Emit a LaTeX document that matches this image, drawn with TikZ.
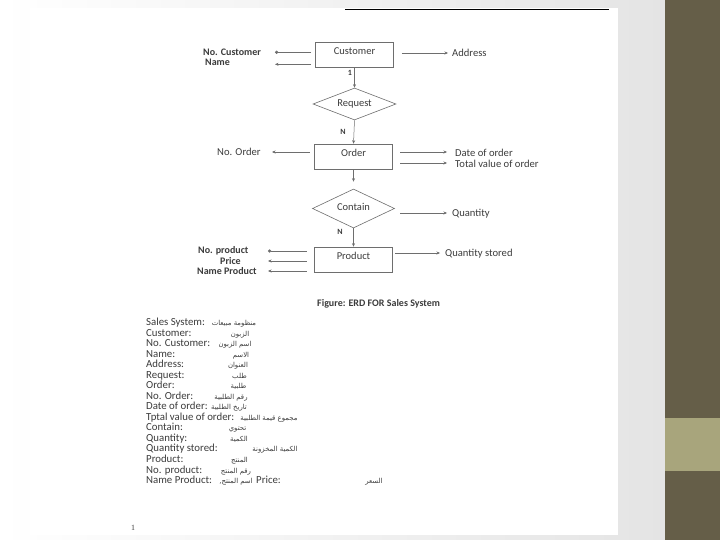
\documentclass[tikz,border=0pt]{standalone}
\usepackage{fontspec}
\setmainfont{Carlito}
\newfontfamily\arabicfont[Script=Arabic]{DejaVu Sans}
\newfontfamily\seriffont{Liberation Serif}
\usetikzlibrary{arrows.meta,shapes.geometric,calc}
\TeXXeTstate=1
\definecolor{darkband}{RGB}{101,94,72}
\definecolor{oliveband}{RGB}{168,165,124}
\definecolor{slidegray}{RGB}{228,228,228}
\definecolor{inkc}{RGB}{60,60,60}
\definecolor{linec}{RGB}{110,110,110}
\tikzset{
  ebox/.style={draw=linec, line width=0.6pt, minimum width=78pt, minimum height=25pt, inner sep=0pt,
    font=\fontsize{10.5}{12}\selectfont, text=inkc, text height=7.5pt, text depth=7.5pt},
  relbox/.style={draw=linec, line width=0.6pt, diamond, aspect=2.4, inner sep=0pt,
    font=\fontsize{10.5}{12}\selectfont, text=inkc},
  lbl/.style={font=\fontsize{10.6}{12}\selectfont, text=inkc, inner sep=0pt, anchor=west},
  blbl/.style={lbl, font=\fontsize{10}{12}\selectfont\bfseries},
  card/.style={font=\fontsize{8}{9}\selectfont\bfseries, text=inkc, inner sep=0pt},
  conn/.style={draw=linec, line width=0.5pt},
  tipend/.style={-{Stealth[length=3.5pt,width=3pt]}},
  dotend/.style={-{Circle[length=3.2pt]}},
  listl/.style={font=\fontsize{10.8}{12}\selectfont, text=inkc, inner sep=0pt, anchor=west,
    text height=7pt, text depth=2pt},
  lista/.style={font=\arabicfont\fontsize{6.9}{8}\selectfont, text=inkc, inner sep=0pt,
    text height=7pt, text depth=2pt}
}
\begin{document}
\begin{tikzpicture}[x=1pt,y=-1pt]
\useasboundingbox (0,0) rectangle (720,540);
% slide background
\shade[left color=white, right color=slidegray] (0,0) rectangle (665,540);
\fill[darkband] (665,0) rectangle (720,540);
\fill[oliveband] (665,418) rectangle (720,471);
% scanned page
\fill[white] (30,8) rectangle (618,535);
\draw[black, line width=1.3pt] (345,9.3) -- (609,9.3);

% entities and relations
\node[ebox] (cust) at (354.5,54.5) {Customer};
\node[relbox, minimum width=83pt, minimum height=32pt] (req) at (354.5,104) {Request};
\node[ebox] (ord) at (353.5,156.5) {Order};
\node[relbox, minimum width=82pt, minimum height=39pt] (cont) at (353.5,208.5) {\raisebox{3.5pt}{Contain}};
\node[ebox] (prod) at (353.5,259.5) {Product};

% attribute labels
\node[blbl] (nocust) at (203,52) {No. Customer};
\node[blbl] (cname) at (205,62) {Name};
\node[lbl] (addr) at (452,53) {Address};
\node[lbl] (noord) at (217,152) {No. Order};
\node[lbl] (dord) at (455,152.5) {Date of order};
\node[lbl] (tord) at (455,163.5) {Total value of order};
\node[lbl] (qty) at (452,214) {Quantity};
\node[blbl] (noprod) at (198,251) {No. product};
\node[blbl] (price) at (220,261) {Price};
\node[blbl] (nprod) at (197,271) {Name Product};
\node[lbl] (qsto) at (445,253.5) {Quantity stored};

% cardinalities
\node[card] (c1) at (350,73) {1};
\node[card] (c2) at (343,132) {N};
\node[card] (c3) at (340,232) {N};

% free ends of attribute connectors
\coordinate (e1) at (275,52.3);
\coordinate (e2) at (275,64.3);
\coordinate (e3) at (448,53);
\coordinate (e4) at (272,152);
\coordinate (e5) at (447,152);
\coordinate (e6) at (447,163);
\coordinate (e7) at (447,213);
\coordinate (e8) at (268,251);
\coordinate (e9) at (268,261);
\coordinate (e10) at (268,271);
\coordinate (e11) at (440,253);

% connectors
\draw[conn,dotend] ($(cust.west)+(-4,-2.2)$) -- (e1);
\draw[conn,tipend] ($(cust.west)+(-4,9.8)$) -- (e2);
\draw[conn,tipend] ($(cust.east)+(8,-1.5)$) -- (e3);
\draw[conn,tipend] (cust.south) -- (req.north);
\draw[conn,tipend] (req.south) -- (ord.north);
\draw[conn,tipend] ($(ord.west)+(-4.5,-4.5)$) -- (e4);
\draw[conn,tipend] ($(ord.east)+(7.5,-4.5)$) -- (e5);
\draw[conn,tipend] ($(ord.east)+(7.5,6.5)$) -- (e6);
\draw[conn,tipend,shorten >=7pt] (ord.south) -- (cont.north);
\draw[conn,tipend] ($(cont.east)+(5.5,4.5)$) -- (e7);
\draw[conn,tipend] (cont.south) -- (prod.north);
\draw[conn,dotend] ($(prod.west)+(-7.5,-8.5)$) -- (e8);
\draw[conn,tipend] ($(prod.west)+(-7.5,1.5)$) -- (e9);
\draw[conn,tipend] ($(prod.west)+(-7.5,11.5)$) -- (e10);
\draw[conn,tipend] ($(prod.east)+(2.5,-6.5)$) -- (e11);

% caption
\node[lbl, font=\fontsize{10}{12}\selectfont\bfseries] (cap) at (317,304) {Figure: ERD FOR Sales System};

% glossary
\node[listl] (l1) at (146,323.0) {Sales System:};
\node[listl] (l2) at (146,333.5) {Customer:};
\node[listl] (l3) at (146,344.1) {No. Customer:};
\node[listl] (l4) at (146,354.6) {Name:};
\node[listl] (l5) at (146,365.1) {Address:};
\node[listl] (l6) at (146,375.7) {Request:};
\node[listl] (l7) at (146,386.2) {Order:};
\node[listl] (l8) at (146,396.7) {No. Order:};
\node[listl] (l9) at (146,407.3) {Date of order:};
\node[listl] (l10) at (146,417.8) {Tptal value of order:};
\node[listl] (l11) at (146,428.3) {Contain:};
\node[listl] (l12) at (146,438.9) {Quantity:};
\node[listl] (l13) at (146,449.4) {Quantity stored:};
\node[listl] (l14) at (146,459.9) {Product:};
\node[listl] (l15) at (146,470.5) {No. product:};
\node[listl] (l16) at (146,481.0) {Name Product:};
\node[listl] (l17) at (256,481.0) {Price:};

\node[lista] (a1) at (234,323.0) {\beginR منظومة مبيعات\endR};
\node[lista] (a2) at (240,333.5) {\beginR الزبون\endR};
\node[lista] (a3) at (235,344.1) {\beginR اسم الزبون\endR};
\node[lista] (a4) at (241,354.6) {\beginR الاسم\endR};
\node[lista] (a5) at (238,365.1) {\beginR العنوان\endR};
\node[lista] (a6) at (239.5,375.7) {\beginR طلب\endR};
\node[lista] (a7) at (238.5,386.2) {\beginR طلبية\endR};
\node[lista] (a8) at (231,396.7) {\beginR رقم الطلبية\endR};
\node[lista] (a9) at (229,407.3) {\beginR تاريخ الطلبية\endR};
\node[lista] (a10) at (269,417.8) {\beginR مجموع قيمة الطلبية\endR};
\node[lista] (a11) at (237.5,428.3) {\beginR تحتوي\endR};
\node[lista] (a12) at (239,438.9) {\beginR الكمية\endR};
\node[lista] (a13) at (275,449.4) {\beginR الكمية المخزونة\endR};
\node[lista] (a14) at (239.5,459.9) {\beginR المنتج\endR};
\node[lista] (a15) at (236,470.5) {\beginR رقم المنتج\endR};
\node[lista] (a16) at (236,481.0) {\beginR اسم المنتج,\endR};
\node[lista] (a17) at (374,481.0) {\beginR السعر\endR};

% page number
\node[font=\seriffont\fontsize{8}{9}\selectfont, text=inkc, inner sep=0pt] (pg) at (133,528) {1};
\end{tikzpicture}
\end{document}
